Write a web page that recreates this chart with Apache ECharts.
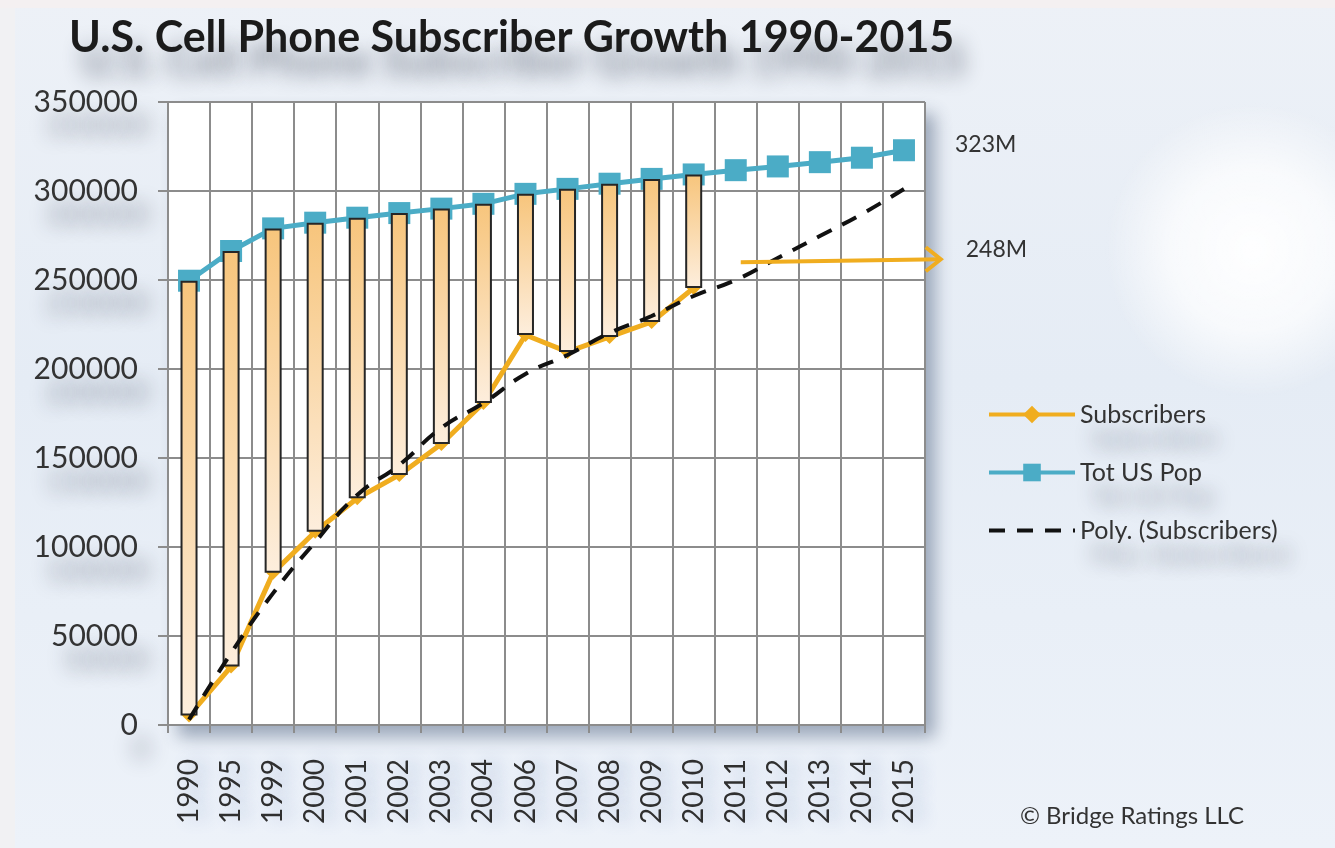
<!DOCTYPE html>
<html>
<head>
<meta charset="utf-8">
<script src="https://cdn.jsdelivr.net/npm/echarts@6/dist/echarts.min.js"></script>
<style>
  html, body { margin: 0; padding: 0; }
  body { background: linear-gradient(180deg, #edf1f7 0%, #e5ecf5 45%, #edf2f9 100%); }
  #chart { width: 1335px; height: 848px; }
</style>
</head>
<body>
<div id="chart"></div>
<script>
// values (thousands)
var years = ['1990', '1995', '1999', '2000', '2001', '2002', '2003', '2004', '2006', '2007',
    '2008', '2009', '2010', '2011', '2012', '2013', '2014', '2015'];
var subscribers = [5300, 32800, 85600, 108600, 127400, 140500, 157900, 180900, 219100, 209600,
    218000, 226400, 245500, null, null, null, null, null];
var totUSPop = [249600, 266300, 279000, 282200, 285000, 287600, 290100, 292800, 298400, 301200,
    304100, 306800, 309300, 311700, 313800, 316200, 318700, 322900];
var polySubscribers = [3000, 40400, 74100, 102800, 129200, 146100, 166900, 180900, 197200, 207900,
    220200, 229800, 241000, 250000, 262400, 274700, 287100, 301100];
var yTicks = { min: 0, max: 350000, interval: 50000 };

var myChart = echarts.init(document.getElementById('chart'));

// high-low bars: invisible base + visible gap between subscribers and population
var gapValues = [];
for (var i = 0; i < years.length; i++) {
    if (subscribers[i] == null) {
        gapValues.push(null);
    } else {
        gapValues.push(totUSPop[i] - subscribers[i]);
    }
}

var fontMain = 'Lato, "Open Sans", sans-serif';
var txtShadow = {
    textShadowColor: 'rgba(40,50,70,0.55)',
    textShadowBlur: 20,
    textShadowOffsetX: 12,
    textShadowOffsetY: 24
};

var option = {
    backgroundColor: 'transparent',
    animation: false,
    title: {
        text: 'U.S. Cell Phone Subscriber Growth 1990-2015',
        left: 64,
        top: 12,
        textStyle: Object.assign({
            fontFamily: fontMain,
            fontSize: 43,
            fontWeight: 'bold',
            color: '#1b1b1b'
        }, txtShadow)
    },
    legend: {
        orient: 'vertical',
        left: 982,
        top: 397,
        itemWidth: 86,
        itemHeight: 22,
        itemGap: 33,
        lineStyle: { width: 4 },
        data: [
            { name: 'Subscribers' },
            { name: 'Tot US Pop' },
            { name: 'Poly. (Subscribers)', itemStyle: { opacity: 0 } }
        ],
        textStyle: Object.assign({
            fontFamily: fontMain,
            fontSize: 25,
            color: '#333',
            padding: [0, 0, 0, 0]
        }, txtShadow)
    },
    grid: {
        left: 168,
        right: 410,
        top: 102,
        bottom: 123,
        show: true,
        backgroundColor: '#ffffff',
        borderWidth: 0,
        shadowColor: 'rgba(60,80,110,0.45)',
        shadowBlur: 16,
        shadowOffsetX: 10,
        shadowOffsetY: 12
    },
    xAxis: {
        type: 'category',
        data: years,
        boundaryGap: true,
        axisLine: { lineStyle: { color: '#8c8c8c', width: 2 } },
        axisTick: { show: true, length: 8, lineStyle: { color: '#8c8c8c', width: 2 } },
        splitLine: { show: true, lineStyle: { color: '#8c8c8c', width: 2 } },
        axisLabel: {
            rotate: 90,
            margin: 34,
            fontFamily: fontMain,
            fontSize: 28,
            color: '#2f2f2f',
            textShadowColor: 'rgba(110,140,190,0.45)',
            textShadowBlur: 16,
            textShadowOffsetX: 10,
            textShadowOffsetY: 0
        }
    },
    yAxis: {
        type: 'value',
        min: yTicks.min,
        max: yTicks.max,
        interval: yTicks.interval,
        axisLine: { show: true, lineStyle: { color: '#8c8c8c', width: 2 } },
        axisTick: { show: true, length: 10, lineStyle: { color: '#8c8c8c', width: 2 } },
        splitLine: { show: true, lineStyle: { color: '#8c8c8c', width: 2 } },
        axisLabel: Object.assign({
            margin: 30,
            fontFamily: fontMain,
            fontSize: 30,
            color: '#333',
            formatter: function (v) { return String(v); }
        }, txtShadow)
    },
    series: [
        {
            name: 'Tot US Pop',
            type: 'line',
            z: 1,
            data: totUSPop,
            symbol: 'rect',
            symbolSize: 22,
            lineStyle: { color: '#4bacc6', width: 5 },
            itemStyle: { color: '#4bacc6' }
        },
        {
            name: 'Subscribers',
            type: 'line',
            z: 1,
            data: subscribers,
            symbol: 'diamond',
            symbolSize: 14,
            lineStyle: { color: '#f0ad1f', width: 5 },
            itemStyle: { color: '#f0ad1f' }
        },
        {
            name: 'base',
            type: 'bar',
            stack: 'hl',
            z: 2,
            barWidth: 17,
            silent: true,
            data: subscribers,
            itemStyle: { color: 'rgba(0,0,0,0)' }
        },
        {
            name: 'range',
            type: 'bar',
            stack: 'hl',
            z: 2,
            barWidth: 17,
            data: gapValues,
            itemStyle: {
                color: {
                    type: 'linear', x: 0, y: 0, x2: 0, y2: 1,
                    colorStops: [
                        { offset: 0, color: '#f7c57c' },
                        { offset: 1, color: '#fdeedd' }
                    ]
                },
                borderColor: '#262626',
                borderWidth: 2
            }
        },
        {
            name: 'Poly. (Subscribers)',
            type: 'line',
            z: 3,
            data: polySubscribers,
            symbol: 'none',
            smooth: true,
            lineStyle: { color: '#111', width: 4, type: [16, 12] },
            itemStyle: { color: '#111' }
        }
    ]
};

myChart.setOption(option);

// annotations placed from the chart's own scales
var endPop = myChart.convertToPixel({ seriesIndex: 0 }, ['2015', totUSPop[totUSPop.length - 1]]);
var arrowStart = myChart.convertToPixel({ seriesIndex: 0 }, ['2011', 260000]);
var ax = arrowStart[0] + 5, ay = arrowStart[1], bx = ax + 200, by = ay - 3;
var annoShadow = { shadowColor: 'rgba(40,50,70,0.5)', shadowBlur: 18, shadowOffsetX: 12, shadowOffsetY: 22 };

myChart.setOption({
    graphic: [
        { type: 'rect', left: 0, top: 0, shape: { width: 15, height: 848 }, style: { fill: '#f1f1f3' }, z: -10 },
        { type: 'rect', left: 0, top: 0, shape: { width: 1335, height: 8 }, style: { fill: '#f4f0f1' }, z: -10 },
        {
            type: 'rect', z: -9,
            shape: { x: 1040, y: 90, width: 295, height: 320 },
            style: {
                fill: {
                    type: 'radial', x: 0.72, y: 0.5, r: 0.5,
                    colorStops: [
                        { offset: 0, color: 'rgba(255,255,255,0.95)' },
                        { offset: 0.55, color: 'rgba(255,255,255,0.7)' },
                        { offset: 1, color: 'rgba(255,255,255,0)' }
                    ]
                }
            }
        },
        {
            type: 'line', z: 20,
            shape: { x1: ax, y1: ay, x2: bx, y2: by },
            style: { stroke: '#f0ad1f', lineWidth: 4 }
        },
        {
            type: 'polyline', z: 20,
            shape: { points: [[bx - 15, by - 12], [bx, by], [bx - 15, by + 12]] },
            style: { stroke: '#f0ad1f', lineWidth: 4, fill: null }
        },
        {
            type: 'text', z: 20,
            x: endPop[0] + 51, y: endPop[1] - 6,
            style: Object.assign({
                text: '323M', fontFamily: fontMain, fontSize: 23, fill: '#333',
                verticalAlign: 'middle'
            }, annoShadow)
        },
        {
            type: 'text', z: 20,
            x: bx + 25, y: by - 10,
            style: Object.assign({
                text: '248M', fontFamily: fontMain, fontSize: 23, fill: '#333',
                verticalAlign: 'middle'
            }, annoShadow)
        },
        {
            type: 'text', z: 20,
            left: 1020, top: 804,
            style: Object.assign({
                text: '\u00A9 Bridge Ratings LLC', fontFamily: fontMain, fontSize: 24, fill: '#333'
            }, annoShadow, { shadowOffsetX: 0 })
        }
    ]
});

window.onresize = function () {
    myChart.resize();
};
</script>
</body>
</html>
